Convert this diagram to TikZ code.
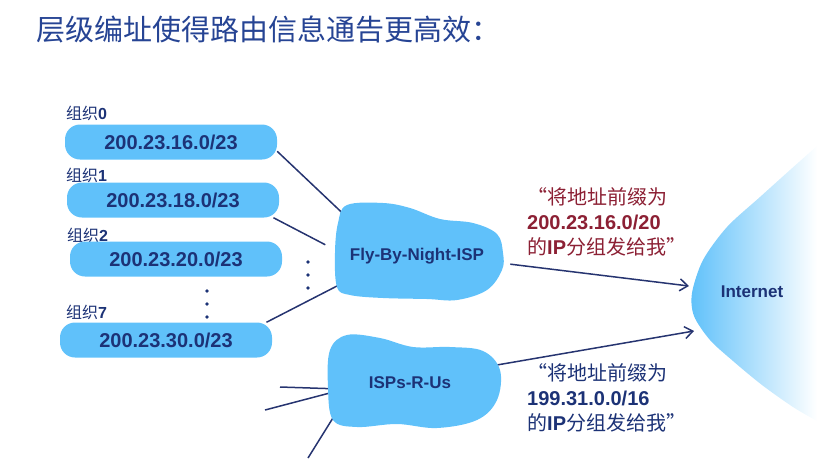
\documentclass[tikz,border=0pt]{standalone}
\usepackage{fontspec}
\setmainfont{Liberation Sans}
\newfontfamily\cjk{Noto Sans CJK SC}
\usetikzlibrary{shapes.geometric, arrows.meta, backgrounds}
\definecolor{blobblue}{RGB}{96,193,250}
\definecolor{navy}{RGB}{28,50,118}
\definecolor{linenavy}{RGB}{38,52,112}
\definecolor{titleblue}{RGB}{38,68,148}
\definecolor{quotered}{RGB}{140,32,52}

\begin{document}
\begin{tikzpicture}[x=1pt, y=-1pt,
    orgbox/.style={rectangle, fill=blobblue, rounded corners=15pt, minimum width=212pt,
                   minimum height=35pt, inner sep=0pt, text=navy,
                   font=\fontsize{20}{24}\selectfont\bfseries},
    orglabel/.style={anchor=west, inner sep=0pt, text=navy, font=\fontsize{16}{18}\selectfont},
    tag/.style={text=navy, font=\fontsize{17}{20}\selectfont\bfseries},
    isp/.style={tag, ellipse, minimum width=162pt, minimum height=86pt, inner sep=0pt},
    claim/.style={anchor=west, align=left, inner sep=0pt, font=\fontsize{20}{25}\selectfont},
    link/.style={linenavy, line width=1.5pt},
    arrow/.style={link, -{Straight Barb[length=8pt, width=12pt, line width=1.5pt]}},
]
\useasboundingbox (0,0) rectangle (817,467);

\fill[blobblue] plot[smooth cycle, tension=0.6] coordinates {(347,205) (383,203) (410,208)
    (440,219) (473,223) (497,234) (503,253) (502,270) (487,290) (457,300) (427,299)
    (383,298) (350,295) (337,287) (335,253) (338,223)};
\fill[blobblue] plot[smooth cycle, tension=0.6] coordinates {(347,335) (380,338) (413,347)
    (450,347) (483,351) (500,370) (497,400) (477,420) (437,428) (397,424) (357,427)
    (333,420) (328,387) (330,350)};

\node[anchor=west, text=titleblue, font=\cjk\fontsize{29}{32}\selectfont] (title) at (33,29)
    {层级编址使得路由信息通告更高效：};

\node[orglabel] (lab0) at (66,113) {{\cjk 组织}\textbf{0}};
\node[orglabel] (lab1) at (66,175) {{\cjk 组织}\textbf{1}};
\node[orglabel] (lab2) at (67,235) {{\cjk 组织}\textbf{2}};
\node[orglabel] (lab7) at (66,312) {{\cjk 组织}\textbf{7}};

\node[orgbox] (org0) at (171,142) {200.23.16.0/23};
\node[orgbox] (org1) at (173,200) {200.23.18.0/23};
\node[orgbox] (org2) at (176,259) {200.23.20.0/23};
\node[orgbox] (org7) at (166,340) {200.23.30.0/23};

\node[isp] (fbn) at (417,256) {Fly-By-Night-ISP};
\node[isp] (isp) at (410,383) {ISPs-R-Us};
\node[tag] (inet) at (752,292) {Internet};

\node[claim, text=quotered] (adv1) at (527,222)
    {{\cjk “将地址前缀为}\\\textbf{200.23.16.0/20}\\{\cjk 的}\textbf{IP}{\cjk 分组发给我”}};
\node[claim, text=navy] (adv2) at (527,398)
    {{\cjk “将地址前缀为}\\\textbf{199.31.0.0/16}\\{\cjk 的}\textbf{IP}{\cjk 分组发给我”}};

\foreach \y in {291,304,317} \fill[navy] (207,\y) circle (1.8);
\foreach \y in {262,275,288} \fill[navy] (308,\y) circle (1.8);

\coordinate (inetA) at (689,286);
\coordinate (inetB) at (694,331);
\coordinate (peer1) at (280,387);
\coordinate (peer2) at (265,410);
\coordinate (peer3) at (308,458);

\begin{scope}[on background layer]
\shade[left color=blobblue, right color=white, middle color=blobblue!50]
    plot[smooth] coordinates {(817,146) (790,170) (760,197) (727,227) (703,260) (692,293)
    (694,316) (710,340) (733,361) (762,385) (793,407) (817,421)} -- cycle;
\draw[link] (org0.-5)  -- (fbn.153);
\draw[link] (org1.-10) -- (fbn.173);
\draw[link] (org7.10)  -- (fbn.200);
\draw[link] (peer1) -- (isp.184);
\draw[link] (peer2) -- (isp.187);
\draw[link] (peer3) -- (isp.198);
\draw[arrow] (fbn.-5) -- (inetA);
\draw[arrow] (isp.12) -- (inetB);
\end{scope}
\end{tikzpicture}
\end{document}
